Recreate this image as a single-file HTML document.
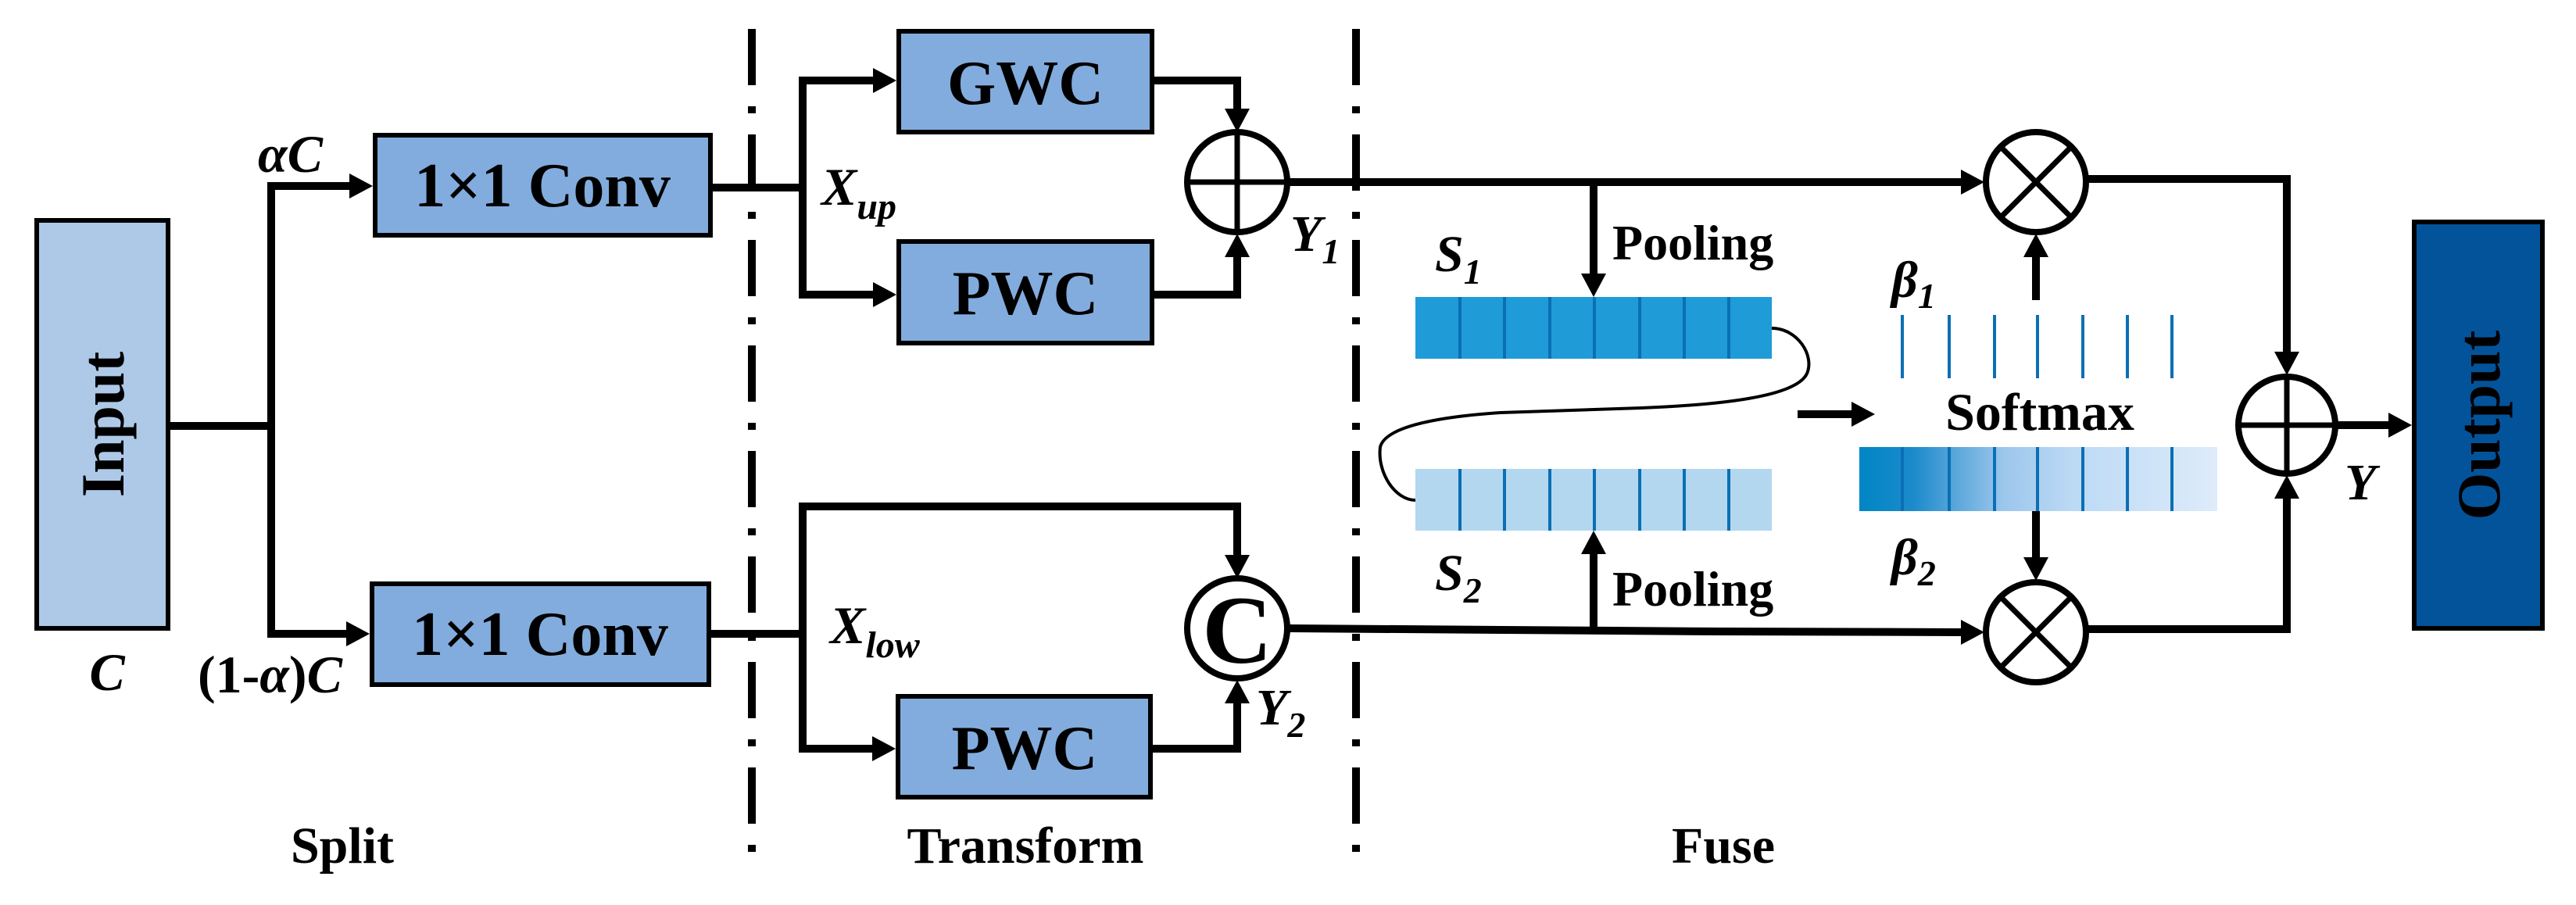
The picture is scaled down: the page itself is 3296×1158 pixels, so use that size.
<!DOCTYPE html>
<html><head><meta charset="utf-8"><style>
html,body{margin:0;padding:0;background:#fff;}
svg{display:block;}
svg text{font-family:"Liberation Serif","DejaVu Serif","Times New Roman",Times,serif !important;font-weight:bold;fill:#000;}
.it{font-style:italic;}
</style></head><body>
<svg width="3296" height="1158" viewBox="0 0 3296 1158" xmlns="http://www.w3.org/2000/svg" font-family="Liberation Serif, DejaVu Serif, serif">
<defs>
<linearGradient id="g" x1="0" x2="1" y1="0" y2="0">
<stop offset="0" stop-color="#0086c5"/><stop offset="0.15" stop-color="#1c8acb"/><stop offset="0.4" stop-color="#9cc6ec"/><stop offset="0.6" stop-color="#bcdaf5"/><stop offset="1" stop-color="#deebfa"/>
</linearGradient>
</defs>
<g stroke="#000" stroke-width="10" fill="none">
<line x1="962" y1="37" x2="962" y2="1092" stroke-dasharray="72 27 9 27"/>
<line x1="1735" y1="37" x2="1735" y2="1092" stroke-dasharray="72 27 9 27"/>
<polyline points="218,545 347,545"/>
<polyline points="347,238 347,811"/>
<polyline points="342,238 450,238"/>
<polyline points="342,811 446,811"/>
<polyline points="912,240 1027,240"/>
<polyline points="910,811 1027,811"/>
<polyline points="1027,103 1027,377"/>
<polyline points="1022,103 1120,103"/>
<polyline points="1022,377 1120,377"/>
<polyline points="1477,103 1583,103 1583,142"/>
<polyline points="1477,377 1583,377 1583,326"/>
<polyline points="1027,648 1027,958"/>
<polyline points="1022,648 1583,648 1583,712"/>
<polyline points="1022,958 1120,958"/>
<polyline points="1475,958 1583,958 1583,896"/>
<polyline points="1649,233 2512,233"/>
<polyline points="2039,233 2039,352"/>
<polyline points="1649,804 2200,808 2512,809"/>
<polyline points="2039,808 2039,707"/>
<polyline points="2300,530 2372,530"/>
<polyline points="2605,384 2605,326"/>
<polyline points="2605,654 2605,716"/>
<polyline points="2671,229 2926,229 2926,452"/>
<polyline points="2671,805 2926,805 2926,636"/>
<polyline points="2990,544 3058,544"/>
</g>
<g fill="#000">
<polygon points="477,238 447,222 447,254"/>
<polygon points="473,811 443,795 443,827"/>
<polygon points="1147,103 1117,87 1117,119"/>
<polygon points="1147,377 1117,361 1117,393"/>
<polygon points="1146,958 1116,942 1116,974"/>
<polygon points="1583,169 1567,139 1599,139"/>
<polygon points="1583,299 1567,329 1599,329"/>
<polygon points="1583,740 1567,710 1599,710"/>
<polygon points="1583,870 1567,900 1599,900"/>
<polygon points="2039,380 2023,350 2055,350"/>
<polygon points="2039,679 2023,709 2055,709"/>
<polygon points="2539,233 2509,217 2509,249"/>
<polygon points="2539,809 2509,793 2509,825"/>
<polygon points="2399,530 2369,514 2369,546"/>
<polygon points="2605,299 2589,329 2621,329"/>
<polygon points="2605,743 2589,713 2621,713"/>
<polygon points="2926,480 2910,450 2942,450"/>
<polygon points="2926,608 2910,638 2942,638"/>
<polygon points="3086,544 3056,528 3056,560"/>
</g>
<g stroke="#000" stroke-width="6">
<rect x="47" y="282" width="168" height="522" fill="#aec8e8"/>
<rect x="480" y="173" width="429" height="128" fill="#82acdd"/>
<rect x="476" y="747" width="431" height="129" fill="#82acdd"/>
<rect x="1150" y="40" width="324" height="129" fill="#82acdd"/>
<rect x="1150" y="309" width="324" height="130" fill="#82acdd"/>
<rect x="1149" y="891" width="323" height="129" fill="#82acdd"/>
<rect x="3089" y="284" width="164" height="520" fill="#03539a"/>
</g>
<g stroke="#000" stroke-width="8" fill="#fff">
<circle cx="1583" cy="233" r="64"/>
<circle cx="1583" cy="804" r="64"/>
<circle cx="2605" cy="233" r="64"/>
<circle cx="2605" cy="809" r="64"/>
<circle cx="2926" cy="544" r="62"/>
</g>
<g stroke="#000" stroke-width="7">
<line x1="1519" y1="233" x2="1647" y2="233"/><line x1="1583" y1="169" x2="1583" y2="297"/>
<line x1="2862" y1="544" x2="2988" y2="544"/><line x1="2926" y1="482" x2="2926" y2="606"/>
<line x1="2560" y1="188" x2="2650" y2="278"/><line x1="2650" y1="188" x2="2560" y2="278"/>
<line x1="2560" y1="764" x2="2650" y2="854"/><line x1="2650" y1="764" x2="2560" y2="854"/>
</g>
<rect x="1811" y="380" width="456" height="79" fill="#1f9bd8"/>
<rect x="1811" y="600" width="456" height="79" fill="#b3d7ef"/>
<g stroke="#0a6fb5" stroke-width="4">
<line x1="1868" y1="380" x2="1868" y2="459"/><line x1="1925" y1="380" x2="1925" y2="459"/><line x1="1983" y1="380" x2="1983" y2="459"/><line x1="2040" y1="380" x2="2040" y2="459"/><line x1="2098" y1="380" x2="2098" y2="459"/><line x1="2155" y1="380" x2="2155" y2="459"/><line x1="2212" y1="380" x2="2212" y2="459"/>
<line x1="1868" y1="600" x2="1868" y2="679"/><line x1="1925" y1="600" x2="1925" y2="679"/><line x1="1983" y1="600" x2="1983" y2="679"/><line x1="2040" y1="600" x2="2040" y2="679"/><line x1="2098" y1="600" x2="2098" y2="679"/><line x1="2155" y1="600" x2="2155" y2="679"/><line x1="2212" y1="600" x2="2212" y2="679"/>
</g>
<rect x="2379" y="572" width="458" height="82" fill="url(#g)"/>
<g stroke="#0a6fb5" stroke-width="4">
<line x1="2434" y1="403" x2="2434" y2="484"/><line x1="2494" y1="403" x2="2494" y2="484"/><line x1="2552" y1="403" x2="2552" y2="484"/><line x1="2607" y1="403" x2="2607" y2="484"/><line x1="2665" y1="403" x2="2665" y2="484"/><line x1="2722" y1="403" x2="2722" y2="484"/><line x1="2779" y1="403" x2="2779" y2="484"/>
<line x1="2434" y1="572" x2="2434" y2="654"/><line x1="2494" y1="572" x2="2494" y2="654"/><line x1="2552" y1="572" x2="2552" y2="654"/><line x1="2607" y1="572" x2="2607" y2="654"/><line x1="2665" y1="572" x2="2665" y2="654"/><line x1="2722" y1="572" x2="2722" y2="654"/><line x1="2779" y1="572" x2="2779" y2="654"/>
</g>
<path d="M2267 420 C2300 420 2322 455 2312 478 C2298 508 2200 518 2100 522 L1920 528 C1830 534 1772 548 1766 572 C1762 605 1785 640 1811 640" fill="none" stroke="#000" stroke-width="4"/>
<text transform="translate(158,543) rotate(-90)" font-size="78" text-anchor="middle">Input</text>
<text transform="translate(3198,544) rotate(-90)" font-size="78" text-anchor="middle">Output</text>
<text x="694" y="264" font-size="80" text-anchor="middle">1×1 Conv</text>
<text x="691" y="838" font-size="80" text-anchor="middle">1×1 Conv</text>
<text x="1312" y="133" font-size="80" text-anchor="middle">GWC</text>
<text x="1312" y="402" font-size="80" text-anchor="middle">PWC</text>
<text x="1311" y="984" font-size="80" text-anchor="middle">PWC</text>
<text x="1583" y="848" font-size="124" text-anchor="middle">C</text>
<text class="it" x="330" y="220" font-size="68" font-style="italic">αC</text>
<text class="it" x="137" y="883" font-size="68" text-anchor="middle" font-style="italic">C</text>
<text x="253" y="886" font-size="68">(1-<tspan font-style="italic">α</tspan>)<tspan font-style="italic">C</tspan></text>
<text class="it" x="1051" y="262" font-size="68" font-style="italic">X<tspan font-size="48" dy="18">up</tspan></text>
<text class="it" x="1062" y="823" font-size="68" font-style="italic">X<tspan font-size="48" dy="18">low</tspan></text>
<text class="it" x="1651" y="321" font-size="66" font-style="italic">Y<tspan font-size="46" dy="16">1</tspan></text>
<text class="it" x="1607" y="927" font-size="66" font-style="italic">Y<tspan font-size="46" dy="16">2</tspan></text>
<text class="it" x="1836" y="347" font-size="66" font-style="italic">S<tspan font-size="46" dy="16">1</tspan></text>
<text class="it" x="1836" y="755" font-size="66" font-style="italic">S<tspan font-size="46" dy="16">2</tspan></text>
<text class="it" x="2420" y="380" font-size="66" font-style="italic">β<tspan font-size="46" dy="14">1</tspan></text>
<text class="it" x="2420" y="735" font-size="66" font-style="italic">β<tspan font-size="46" dy="14">2</tspan></text>
<text class="it" x="3000" y="639" font-size="66" font-style="italic">Y</text>
<text x="2063" y="332" font-size="64">Pooling</text>
<text x="2063" y="775" font-size="64">Pooling</text>
<text x="2610" y="550" font-size="68" text-anchor="middle">Softmax</text>
<text x="438" y="1104" font-size="66" text-anchor="middle">Split</text>
<text x="1312" y="1104" font-size="66" text-anchor="middle">Transform</text>
<text x="2205" y="1104" font-size="66" text-anchor="middle">Fuse</text>
</svg>
</body></html>
